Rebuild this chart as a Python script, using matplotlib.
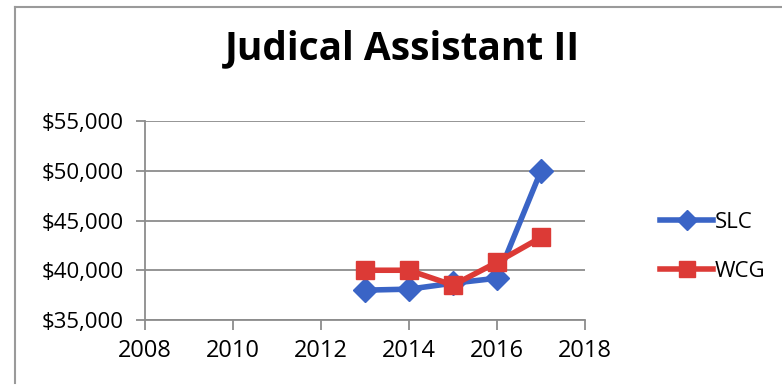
import matplotlib.pyplot as plt
from matplotlib.lines import Line2D
from matplotlib.ticker import FuncFormatter

# salary by year for each jurisdiction
years = [2013, 2014, 2015, 2016, 2017]
slc = [38000, 38100, 38700, 39200, 50000]
wcg = [40000, 40000, 38500, 40800, 43300]

x_ticks = [2008, 2010, 2012, 2014, 2016, 2018]
y_ticks = [35000, 40000, 45000, 50000, 55000]

blue = "#3a64c6"
red = "#dc3a36"
grid = "#8c8c8c"

plt.rcParams["font.family"] = ["Open Sans", "DejaVu Sans"]

fig = plt.figure(figsize=(7.82, 3.85), dpi=100)
ax = fig.add_axes([145 / 782, 1 - 320 / 385, 440 / 782, 199 / 385])

ax.plot(years, slc, color=blue, lw=4, marker="D", ms=12,
        solid_capstyle="round", label="SLC", zorder=3)
ax.plot(years, wcg, color=red, lw=4, marker="s", ms=13.5,
        label="WCG", zorder=4)

ax.set_xlim(2008, 2018)
ax.set_ylim(35000, 55000)
ax.set_xticks(x_ticks)
ax.set_yticks(y_ticks)
ax.yaxis.set_major_formatter(FuncFormatter(lambda v, p: "${:,.0f}".format(v)))

ax.grid(axis="y", color=grid, lw=1.3)
ax.set_axisbelow(True)
for side in ["top", "right"]:
    ax.spines[side].set_visible(False)
for side in ["left", "bottom"]:
    ax.spines[side].set_color(grid)
    ax.spines[side].set_linewidth(1.3)
ax.tick_params(axis="y", length=6.5, width=1.3, color=grid, labelsize=16, pad=9)
ax.tick_params(axis="x", length=7, width=1.3, color=grid, labelsize=17, pad=7)

fig.text(0.514, 1 - 59 / 385, "Judical Assistant II", ha="center", va="baseline",
         fontsize=28, fontweight="bold")

handles = [Line2D([], [], color=blue, lw=4, marker="D", ms=10),
           Line2D([], [], color=red, lw=4, marker="s", ms=11)]
fig.legend(handles, ["SLC", "WCG"], loc="center left",
           bbox_to_anchor=(640 / 782, 1 - 247 / 385), frameon=False,
           fontsize=16, handlelength=2.4, handletextpad=0.05, labelspacing=1.28)

# chart frame edges
fig.add_artist(Line2D([15 / 782, 15 / 782], [1 - 7 / 385, 0.005],
                      color="#9a9a9a", lw=1.5))
fig.add_artist(Line2D([15 / 782, 1], [1 - 7 / 385, 1 - 7 / 385],
                      color="#9a9a9a", lw=1.5))

fig.savefig("out.png", dpi=100)
